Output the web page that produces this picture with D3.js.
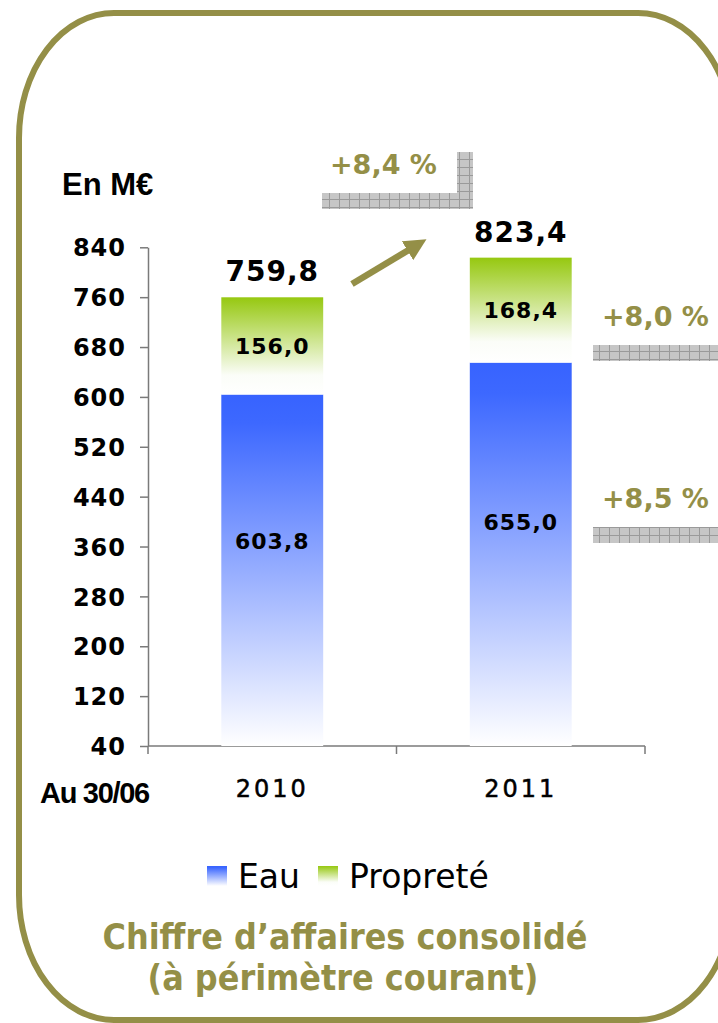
<!DOCTYPE html>
<html>
<head>
<meta charset="utf-8">
<script src="https://cdn.jsdelivr.net/npm/d3@7"></script>
<style>
  body { margin: 0; background: #fff; }
  svg { display: block; }
  .axis path, .axis line { stroke: #7a7a7a; stroke-width: 1.5; }
  .axis text { font-family: "DejaVu Sans", sans-serif; font-weight: bold; font-size: 24px; fill: #000; }
</style>
</head>
<body>
<svg id="chart" width="718" height="1023"></svg>
<script>
let years = ['2010', '2011'];
let eau = [603.8, 655.0];
let proprete = [156.0, 168.4];
let yTicks = [40, 120, 200, 280, 360, 440, 520, 600, 680, 760, 840];
let growthTotal = '+8,4 %';
let growthProprete = '+8,0 %';
let growthEau = '+8,5 %';
let seriesNames = ['Eau', 'Propreté'];

let olive = '#948f47';
let fmt = v => v.toFixed(1).replace('.', ',');

let svg = d3.select('#chart');
let defs = svg.append('defs');

// gradients
let gBlue = defs.append('linearGradient').attr('id', 'gBlue').attr('x1', 0).attr('y1', 0).attr('x2', 0).attr('y2', 1);
gBlue.append('stop').attr('offset', '0%').attr('stop-color', '#3763ff');
gBlue.append('stop').attr('offset', '8%').attr('stop-color', '#3d68ff');
gBlue.append('stop').attr('offset', '100%').attr('stop-color', '#ffffff');
let gGreen = defs.append('linearGradient').attr('id', 'gGreen').attr('x1', 0).attr('y1', 0).attr('x2', 0).attr('y2', 1);
gGreen.append('stop').attr('offset', '0%').attr('stop-color', '#96c810');
gGreen.append('stop').attr('offset', '80%').attr('stop-color', '#fbfdf8');
gGreen.append('stop').attr('offset', '100%').attr('stop-color', '#ffffff');

// grey checkered pattern
let pat = defs.append('pattern').attr('id', 'grid').attr('width', 10).attr('height', 8)
    .attr('patternUnits', 'userSpaceOnUse');
pat.append('rect').attr('width', 10).attr('height', 8).attr('fill', '#c6c6c6');
pat.append('line').attr('x1', 9.5).attr('y1', 0).attr('x2', 9.5).attr('y2', 8).attr('stroke', '#9a9a9a');
pat.append('line').attr('x1', 0).attr('y1', 7.5).attr('x2', 10).attr('y2', 7.5).attr('stroke', '#9a9a9a');

// arrow marker
defs.append('marker').attr('id', 'arrow').attr('viewBox', '0 0 10 10')
    .attr('refX', 5).attr('refY', 5).attr('markerWidth', 3.4).attr('markerHeight', 3.4)
    .attr('orient', 'auto')
    .append('path').attr('d', 'M0,0 L10,5 L0,10 z').attr('fill', olive);

// frame
svg.append('rect')
    .attr('x', 19).attr('y', 13).attr('width', 714).attr('height', 1007)
    .attr('rx', 95).attr('ry', 125)
    .attr('fill', 'none').attr('stroke', olive).attr('stroke-width', 6);

let yScale = d3.scaleLinear().domain([40, 840]).range([746, 247.3]);
let xScale = d3.scaleBand().domain(years).range([148, 645]);
let barW = xScale.bandwidth() * 0.41;

// axes
svg.append('g').attr('class', 'axis')
    .attr('transform', 'translate(148,0)')
    .call(d3.axisLeft(yScale).tickValues(yTicks).tickSize(8).tickSizeOuter(0).tickPadding(14))
    .call(g => g.selectAll('text').attr('dy', '0.36em').attr('letter-spacing', 1));

let xAxis = svg.append('g').attr('class', 'axis');
xAxis.append('line').attr('x1', xScale.range()[0]).attr('x2', xScale.range()[1])
    .attr('y1', yScale(40)).attr('y2', yScale(40));
xAxis.selectAll('line.tk').data([xScale.range()[0]].concat(years.map(d => xScale(d) + xScale.bandwidth())))
    .enter().append('line').attr('class', 'tk')
    .attr('x1', d => d).attr('x2', d => d)
    .attr('y1', yScale(40)).attr('y2', yScale(40) + 8);
xAxis.selectAll('text.yr').data(years).enter().append('text').attr('class', 'yr')
    .attr('x', d => xScale(d) + xScale.bandwidth() / 2)
    .attr('y', 797)
    .attr('text-anchor', 'middle')
    .attr('letter-spacing', 3)
    .attr('stroke', '#000').attr('stroke-width', 0.5)
    .style('font-weight', 'normal')
    .text(d => d);

// bars
let bars = svg.append('g');
bars.selectAll('rect.eau').data(years).enter().append('rect').attr('class', 'eau')
    .attr('x', d => xScale(d) + (xScale.bandwidth() - barW) / 2)
    .attr('y', (d, i) => yScale(eau[i]))
    .attr('width', barW)
    .attr('height', (d, i) => yScale(40) - yScale(eau[i]))
    .attr('fill', 'url(#gBlue)');
bars.selectAll('rect.prop').data(years).enter().append('rect').attr('class', 'prop')
    .attr('x', d => xScale(d) + (xScale.bandwidth() - barW) / 2)
    .attr('y', (d, i) => yScale(eau[i] + proprete[i]))
    .attr('width', barW)
    .attr('height', (d, i) => yScale(eau[i]) - yScale(eau[i] + proprete[i]))
    .attr('fill', 'url(#gGreen)');

// bar labels
let lab = svg.append('g').style('font-family', '"DejaVu Sans", sans-serif').style('font-weight', 'bold')
    .attr('text-anchor', 'middle');
lab.selectAll('text.le').data(years).enter().append('text')
    .attr('x', d => xScale(d) + xScale.bandwidth() / 2)
    .attr('y', (d, i) => yScale(eau[i] * 0.61))
    .attr('dy', '0.36em').attr('font-size', 22).attr('letter-spacing', 1)
    .text((d, i) => fmt(eau[i]));
lab.selectAll('text.lp').data(years).enter().append('text')
    .attr('x', d => xScale(d) + xScale.bandwidth() / 2)
    .attr('y', (d, i) => yScale(eau[i] + proprete[i] / 2))
    .attr('dy', '0.36em').attr('font-size', 22).attr('letter-spacing', 1)
    .text((d, i) => fmt(proprete[i]));
lab.selectAll('text.lt').data(years).enter().append('text')
    .attr('x', d => xScale(d) + xScale.bandwidth() / 2)
    .attr('y', (d, i) => yScale(eau[i] + proprete[i]) - 16)
    .attr('font-size', 28).attr('letter-spacing', 1)
    .text((d, i) => fmt(eau[i] + proprete[i]));

// titles on the axes
svg.append('text').attr('x', 62).attr('y', 195)
    .style('font-family', '"Liberation Sans", Arial, sans-serif').style('font-weight', 'bold')
    .attr('font-size', 31).text('En M€');
svg.append('text').attr('x', 40).attr('y', 803)
    .style('font-family', '"Liberation Sans", Arial, sans-serif').style('font-weight', 'bold')
    .attr('font-size', 29).attr('letter-spacing', -1.3).text('Au 30/06');

// growth annotations
let ann = svg.append('g');
ann.append('rect').attr('x', 322).attr('y', 193).attr('width', 151).attr('height', 16).attr('fill', 'url(#grid)');
ann.append('rect').attr('x', 457).attr('y', 152).attr('width', 16).attr('height', 41).attr('fill', 'url(#grid)');
ann.append('rect').attr('x', 593).attr('y', 345).attr('width', 130).attr('height', 16).attr('fill', 'url(#grid)');
ann.append('rect').attr('x', 593).attr('y', 527).attr('width', 130).attr('height', 16).attr('fill', 'url(#grid)');
let annText = ann.append('g').style('font-family', '"DejaVu Sans", sans-serif').style('font-weight', 'bold')
    .attr('fill', olive).attr('font-size', 27);
annText.append('text').attr('x', 330).attr('y', 174).text(growthTotal);
annText.append('text').attr('x', 602).attr('y', 326).text(growthProprete);
annText.append('text').attr('x', 602).attr('y', 508).text(growthEau);

ann.append('line').attr('x1', 352).attr('y1', 284).attr('x2', 417).attr('y2', 245)
    .attr('stroke', olive).attr('stroke-width', 6.5).attr('marker-end', 'url(#arrow)');

// legend
let legend = svg.append('g').style('font-family', '"DejaVu Sans", sans-serif').attr('font-size', 33);
let legX = [207, 318];
let legFill = ['url(#gBlue)', 'url(#gGreen)'];
seriesNames.forEach((s, i) => {
    legend.append('rect').attr('x', legX[i]).attr('y', 866).attr('width', 20).attr('height', 20).attr('fill', legFill[i]);
    legend.append('text').attr('x', legX[i] + 31).attr('y', 888).text(s);
});

// title
let title = svg.append('g').style('font-family', '"DejaVu Sans Condensed", "DejaVu Sans", sans-serif')
    .style('font-weight', 'bold').attr('fill', olive).attr('font-size', 35.5).attr('text-anchor', 'middle');
title.append('text').attr('x', 345).attr('y', 949).text('Chiffre d’affaires consolidé');
title.append('text').attr('x', 343).attr('y', 990).text('(à périmètre courant)');
</script>
</body>
</html>
